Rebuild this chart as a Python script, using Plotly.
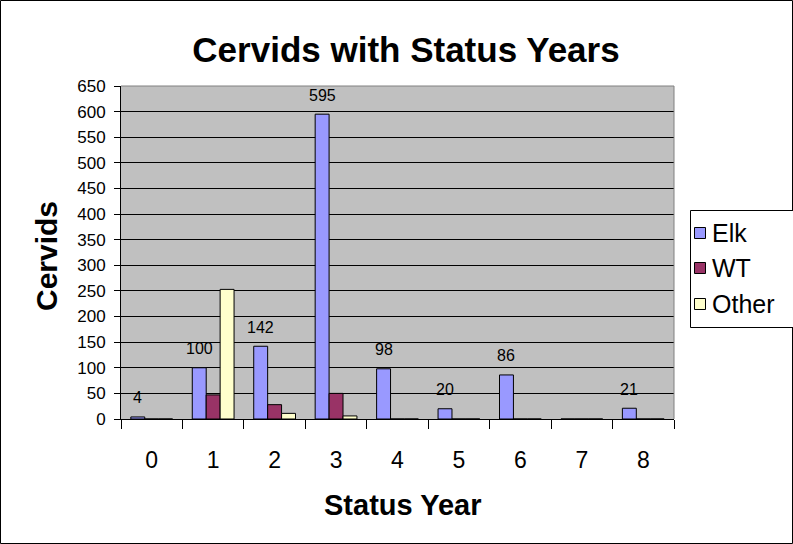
import plotly.graph_objects as go

years = ["0", "1", "2", "3", "4", "5", "6", "7", "8"]
elk = [4, 100, 142, 595, 98, 20, 86, 0, 21]
wt = [0, 47, 28, 50, 0, 0, 0, 0, 0]
other = [0, 253, 11, 6, 0, 0, 0, 0, 0]
series_names = ["Elk", "WT", "Other"]
series_colors = ["#9999FF", "#993366", "#FFFFCC"]
y_ticks = list(range(0, 651, 50))

W, H = 793, 544
PLOT_L, PLOT_R, PLOT_T, PLOT_B = 121, 674, 86, 419  # pixel coordinates
ML, MR, MT, MB = PLOT_L, W - PLOT_R, PLOT_T, H - PLOT_B
PW = W - ML - MR
PH = H - MT - MB


def px2x(px):
    return (px - PLOT_L) / PW


def py2y(py):
    return (PLOT_B - py) / PH


FONT = "Liberation Sans, Arial, sans-serif"

fig = go.Figure()
for name, vals, col in zip(series_names, [elk, wt, other], series_colors):
    fig.add_trace(go.Bar(
        x=years, y=vals, name=name,
        marker=dict(color=col, line=dict(color="black", width=1)),
        showlegend=False,
    ))

# data labels for Elk
n_series = 3
bar_w = (1 - 0.32) / n_series
for i, v in enumerate(elk):
    if v > 0:
        fig.add_annotation(
            x=i - bar_w, y=v, xref="x", yref="y", text=str(v),
            showarrow=False, yshift=19, yanchor="middle",
            font=dict(family=FONT, size=16, color="black"),
        )

# axis titles
fig.add_annotation(x=px2x(402), y=py2y(505), xref="paper", yref="paper",
                   text="Status Year", showarrow=False, xanchor="center", yanchor="middle",
                   font=dict(family=FONT, size=29, color="black", weight="bold"))
fig.add_annotation(x=px2x(46), y=py2y(256), xref="paper", yref="paper",
                   text="Cervids", showarrow=False, xanchor="center", yanchor="middle",
                   textangle=-90,
                   font=dict(family=FONT, size=30, color="black", weight="bold"))

shapes = []
# outer border
shapes.append(dict(type="rect", xref="paper", yref="paper",
                   x0=px2x(0.5), x1=px2x(792.5), y0=py2y(543.5), y1=py2y(0.5),
                   line=dict(color="black", width=1), layer="above"))
# plot area top/right border (gray)
shapes.append(dict(type="line", xref="paper", yref="paper", x0=0, x1=1, y0=1, y1=1,
                   line=dict(color="#808080", width=1), layer="above"))
shapes.append(dict(type="line", xref="paper", yref="paper", x0=1, x1=1, y0=0, y1=1,
                   line=dict(color="#808080", width=1), layer="above"))
# legend box
shapes.append(dict(type="rect", xref="paper", yref="paper",
                   x0=px2x(690.5), x1=px2x(805), y0=py2y(327.5), y1=py2y(210.5),
                   line=dict(color="black", width=1), fillcolor="white", layer="above"))
leg_y = [233, 268, 304]
for name, col, cy in zip(series_names, series_colors, leg_y):
    shapes.append(dict(type="rect", xref="paper", yref="paper",
                       x0=px2x(694.5), x1=px2x(705.5), y0=py2y(cy + 5.5), y1=py2y(cy - 5.5),
                       line=dict(color="black", width=1), fillcolor=col, layer="above"))
    fig.add_annotation(x=px2x(710), y=py2y(cy), xref="paper", yref="paper",
                       text=name, showarrow=False, xanchor="left", yanchor="middle",
                       font=dict(family=FONT, size=25, color="black"))

fig.update_layout(
    width=W, height=H,
    margin=dict(l=ML, r=MR, t=MT, b=MB, pad=0),
    paper_bgcolor="white", plot_bgcolor="#C0C0C0",
    barmode="group", bargap=0.32, bargroupgap=0,
    font=dict(family=FONT, color="black"),
    title=dict(text="Cervids with Status Years", x=406 / W, xanchor="center",
               y=1 - 50 / H, yanchor="middle",
               font=dict(family=FONT, size=35, color="black", weight="bold")),
    shapes=shapes,
    xaxis=dict(type="category", tickson="boundaries", ticks="outside", ticklen=9,
               tickcolor="black", showline=True, linecolor="black", linewidth=1,
               showgrid=False, tickfont=dict(family=FONT, size=23, color="black"),
               ticklabelstandoff=20,
               automargin=False, range=[-0.5, 8.5]),
    yaxis=dict(range=[0, 650], tickvals=y_ticks, ticks="outside", ticklen=6,
               tickcolor="black", showline=True, linecolor="black", linewidth=1,
               showgrid=True, gridcolor="black", gridwidth=1, zeroline=False,
               tickfont=dict(family=FONT, size=17, color="black"),
               ticklabelstandoff=5,
               automargin=False),
)

fig.write_html("out.html", config={"displayModeBar": False},
               post_script="document.body.style.margin='0';")
